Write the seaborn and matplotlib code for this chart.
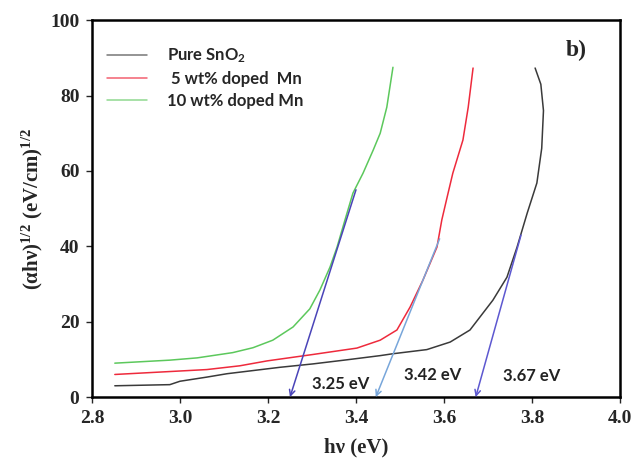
import numpy as np
import pandas as pd
import matplotlib
matplotlib.use("Agg")
import matplotlib.pyplot as plt
import seaborn as sb

# ---- data ----
pure_x = [2.852, 2.977, 3.000, 3.061, 3.107, 3.227, 3.302, 3.380, 3.455, 3.484, 3.561,
          3.614, 3.659, 3.711, 3.743, 3.766, 3.789, 3.811, 3.822, 3.826, 3.820, 3.807]
pure_y = [3.0, 3.3, 4.2, 5.3, 6.2, 7.9, 8.8, 9.9, 11.0, 11.5, 12.6,
          14.6, 17.8, 25.7, 31.8, 39.8, 48.8, 56.8, 66.0, 76.0, 83.0, 87.3]

mn5_x = [2.852, 3.061, 3.136, 3.198, 3.302, 3.402, 3.455, 3.493, 3.523, 3.552, 3.584,
         3.595, 3.607, 3.620, 3.643, 3.655, 3.666]
mn5_y = [6.0, 7.3, 8.3, 9.6, 11.3, 13.0, 15.1, 17.8, 23.9, 31.0, 39.8,
         47.0, 53.0, 59.4, 68.2, 76.9, 87.3]

mn10_x = [2.852, 2.977, 3.039, 3.120, 3.166, 3.211, 3.257, 3.295, 3.318, 3.341, 3.357,
          3.375, 3.393, 3.416, 3.439, 3.455, 3.470, 3.484]
mn10_y = [9.0, 9.8, 10.4, 11.8, 13.1, 15.1, 18.6, 23.4, 28.4, 34.5, 39.8,
          47.0, 54.1, 59.4, 65.5, 70.0, 76.9, 87.5]

labels = ["Pure SnO$_2$", " 5 wt% doped  Mn", "10 wt% doped Mn"]

# tangent arrows: start point on curve -> band gap on the axis
arrow_start_x = [3.400, 3.590, 3.775]
arrow_start_y = [55.0, 42.0, 43.0]
arrow_end_x = [3.25, 3.445, 3.672]
gap_text = ["3.25 eV", "3.42 eV", "3.67 eV"]
gap_text_x = [3.365, 3.575, 3.80]
gap_text_y = [3.6, 5.8, 5.6]

plt.rcParams["mathtext.default"] = "regular"

sb.set_style("ticks")
fig = plt.figure(figsize=(6.34, 4.58), dpi=100)
ax = fig.add_axes([0.145, 0.133, 0.833, 0.823])

series = [(pure_x, pure_y, "#3a3a3a"), (mn5_x, mn5_y, "#ee2a3c"), (mn10_x, mn10_y, "#5cc85c")]
for (xs, ys, c), lab in zip(series, labels):
    df = pd.DataFrame({"x": xs, "y": ys})
    sb.lineplot(data=df, x="x", y="y", sort=False, estimator=None, color=c,
                linewidth=1.1, label=lab, ax=ax)

arrow_cols = ["#4a44b8", "#78a6da", "#5d58d0"]
for sx, sy, ex, c in zip(arrow_start_x, arrow_start_y, arrow_end_x, arrow_cols):
    ax.annotate("", xy=(ex, 0), xytext=(sx, sy),
                arrowprops=dict(arrowstyle="->", color=c, lw=1.1, shrinkA=0, shrinkB=0))

for t, tx, ty in zip(gap_text, gap_text_x, gap_text_y):
    ax.text(tx, ty, t, ha="center", va="center", fontsize=12, fontweight="bold",
            family=["Lato", "DejaVu Sans"], color="#222222")

ax.text(3.90, 92, "b)", ha="center", va="center", fontsize=17, fontweight="bold",
        family="Liberation Serif")

ax.set_xlim(2.8, 4.0)
ax.set_ylim(0, 100)
ax.set_xticks(np.arange(2.8, 4.01, 0.2))
ax.set_yticks(np.arange(0, 101, 20))
ax.set_xticklabels([f"{v:.1f}" for v in np.arange(2.8, 4.01, 0.2)])
for lab in ax.get_xticklabels() + ax.get_yticklabels():
    lab.set_family("Liberation Serif")
    lab.set_fontweight("bold")
    lab.set_fontsize(14)
ax.tick_params(length=4, width=1, pad=5)

ax.set_xlabel("hν (eV)", family="Liberation Serif", fontweight="bold", fontsize=15, labelpad=8)
ax.set_ylabel("(αhν)$^{1/2}$ (eV/cm)$^{1/2}$", family="Liberation Serif",
              fontweight="bold", fontsize=15, labelpad=4)

for s in ax.spines.values():
    s.set_linewidth(1.8)
    s.set_color("black")

leg = ax.legend(loc="upper left", bbox_to_anchor=(0.0, 0.97), frameon=False,
                handlelength=2.4, handletextpad=1.2, labelspacing=0.35,
                prop={"family": "Lato", "weight": "bold", "size": 12})
for h, c in zip(leg.get_lines(), ["#777777", "#f26070", "#8fd88f"]):
    h.set_color(c)

fig.savefig("out.png", dpi=100)
